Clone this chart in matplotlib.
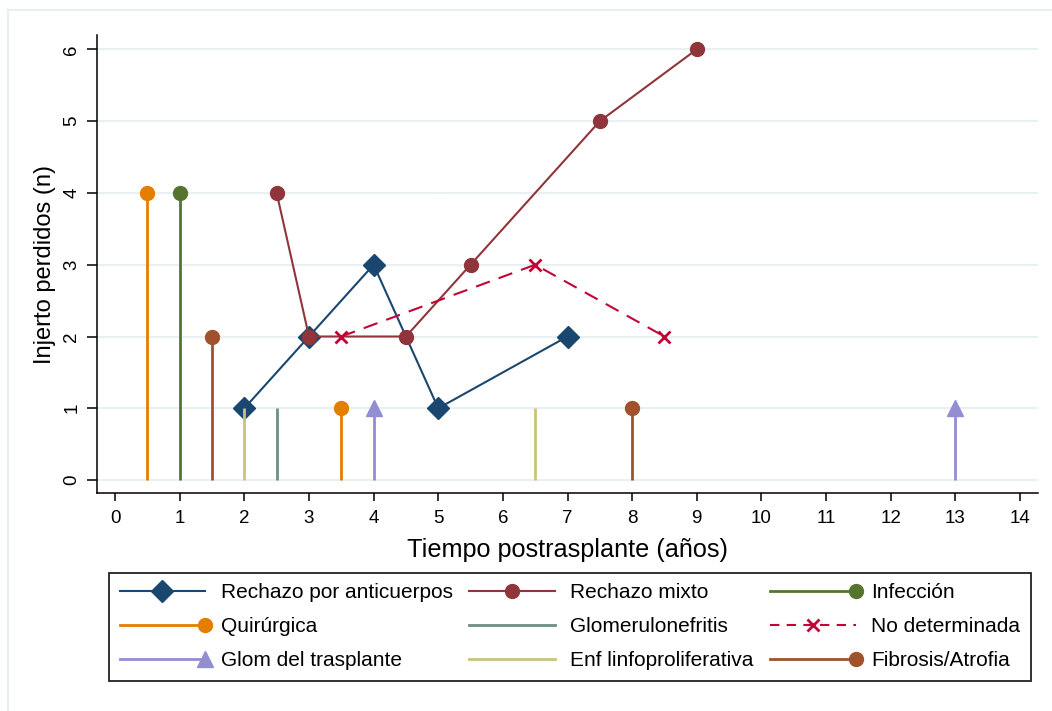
import matplotlib.pyplot as plt
from matplotlib.lines import Line2D
from matplotlib.legend_handler import HandlerLine2D
from matplotlib.patches import Rectangle

plt.rcParams['font.family'] = ['Liberation Sans', 'DejaVu Sans']

# data
anticuerpos_x = [2, 3, 4, 5, 7]
anticuerpos_y = [1, 2, 3, 1, 2]
mixto_x = [2.5, 3, 4.5, 5.5, 7.5, 9]
mixto_y = [4, 2, 2, 3, 5, 6]
nodet_x = [3.5, 6.5, 8.5]
nodet_y = [2, 3, 2]
infeccion_x = [1]
infeccion_y = [4]
quirurgica_x = [0.5, 3.5]
quirurgica_y = [4, 1]
glomerulo_x = [2.5]
glomerulo_y = [1]
glomtx_x = [4, 13]
glomtx_y = [1, 1]
linfo_x = [2, 6.5]
linfo_y = [1, 1]
fibrosis_x = [1.5, 8]
fibrosis_y = [2, 1]

# stata s2color
navy = '#1a476f'
maroon = '#90353b'
green = '#55752f'
orange = '#e37e00'
teal = '#6e8e84'
cranberry = '#c10534'
lavender = '#938dd2'
khaki = '#cac27e'
sienna = '#a0522d'

fig = plt.figure(figsize=(10.52, 7.11), dpi=100)
fig.patches.append(Rectangle((8/1052, -0.05), 1.1, 1 - 10/711 + 0.05,
                             transform=fig.transFigure, fill=False,
                             edgecolor='#e6eeee', lw=1.5))
ax = fig.add_axes([97/1052, 1 - 493/711, 941/1052, 458/711])

lw = 1.5
ax.plot(anticuerpos_x, anticuerpos_y, color=navy, lw=lw, marker='D', ms=11, zorder=3)
ax.plot(mixto_x, mixto_y, color=maroon, lw=lw, marker='o', ms=10, zorder=3)
ax.plot(nodet_x, nodet_y, color=cranberry, lw=lw, dashes=(7, 4.5), marker='x',
        ms=9, mew=2, zorder=3)

# spikes
def spike(x, y, color, marker=None, ms=10):
    ax.vlines(x, 0, y, color=color, lw=2, zorder=4)
    if marker:
        ax.plot(x, y, ls='none', marker=marker, ms=ms, color=color, zorder=4)

spike(infeccion_x, infeccion_y, green, 'o')
spike(quirurgica_x, quirurgica_y, orange, 'o')
spike(glomerulo_x, glomerulo_y, teal)
spike(glomtx_x, glomtx_y, lavender, '^', 12)
spike(linfo_x, linfo_y, khaki)
spike(fibrosis_x, fibrosis_y, sienna, 'o')

ax.set_xlim(-0.28, 14.28)
ax.set_ylim(-0.18, 6.2)
ax.set_xticks(range(0, 15))
ax.set_yticks(range(0, 7))
ax.tick_params(labelsize=13.5, width=1.1, color='black')
ax.tick_params(axis='x', length=6, pad=6)
ax.tick_params(axis='y', length=7, pad=5)
for t in ax.get_yticklabels():
    t.set_rotation(90)
    t.set_va('center')
ax.grid(axis='y', color='#e9f0f2', lw=1.5)
ax.set_axisbelow(True)
for s in ['top', 'right']:
    ax.spines[s].set_visible(False)
for s in ['left', 'bottom']:
    ax.spines[s].set_linewidth(1.1)

ax.set_xlabel('Tiempo postrasplante (años)', fontsize=18.2, labelpad=8)
ax.set_ylabel('Injerto perdidos (n)', fontsize=17, labelpad=5)


class EndMarker(HandlerLine2D):
    def create_artists(self, *args, **kwargs):
        arts = super().create_artists(*args, **kwargs)
        for a in arts:
            if a.get_marker() not in (None, 'None', ''):
                a.set_markevery([2])
        return arts


h_anti = Line2D([], [], color=navy, lw=lw, marker='D', ms=11)
h_mixto = Line2D([], [], color=maroon, lw=lw, marker='o', ms=10)
h_inf = Line2D([], [], color=green, lw=2, marker='o', ms=10)
h_quir = Line2D([], [], color=orange, lw=2, marker='o', ms=10)
h_glom = Line2D([], [], color=teal, lw=2)
h_nodet = Line2D([], [], color=cranberry, lw=lw, dashes=(4.5, 3.5), marker='x', ms=9, mew=2)
h_gtx = Line2D([], [], color=lavender, lw=2, marker='^', ms=12)
h_linfo = Line2D([], [], color=khaki, lw=2)
h_fib = Line2D([], [], color=sienna, lw=2, marker='o', ms=10)

# column-major order so it reads row by row
handles = [h_anti, h_quir, h_gtx, h_mixto, h_glom, h_linfo, h_inf, h_nodet, h_fib]
labels = ['Rechazo por anticuerpos', 'Quirúrgica', 'Glom del trasplante',
          'Rechazo mixto', 'Glomerulonefritis', 'Enf linfoproliferativa',
          'Infección', 'No determinada', 'Fibrosis/Atrofia']
end = EndMarker(numpoints=1)
hmap = {h_inf: end, h_quir: end, h_gtx: end, h_fib: end}

leg = fig.legend(handles, labels, ncol=3, loc='center',
                 bbox_to_anchor=(570/1052, 1 - 627/711), fontsize=15,
                 handlelength=4.1, handletextpad=0.75, columnspacing=0.8,
                 labelspacing=0.72, numpoints=1, fancybox=False,
                 edgecolor='#222222', framealpha=1, borderpad=0.5,
                 handler_map=hmap)
leg.get_frame().set_linewidth(1.3)

fig.savefig('out.png', dpi=100)
